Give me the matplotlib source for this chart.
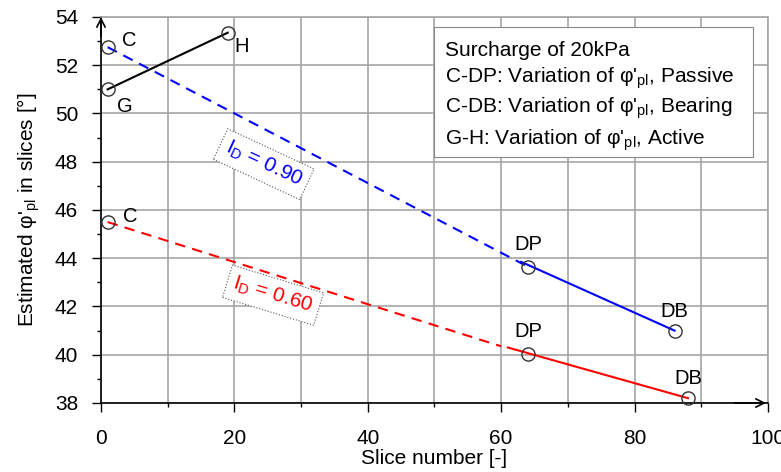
import matplotlib
matplotlib.use("Agg")
import matplotlib.pyplot as plt
from matplotlib.patches import Rectangle
from matplotlib.ticker import MultipleLocator

# ── Data ────────────────────────────────────────────────────────────────
blue_dash_x = [1, 64]
blue_dash_y = [52.75, 43.65]
blue_solid_x = [63, 86]
blue_solid_y = [43.85, 41.0]

red_dash_x = [1, 60]
red_dash_y = [45.5, 40.35]
red_solid_x = [61, 88]
red_solid_y = [40.3, 38.2]

gh_x = [1, 19]
gh_y = [51.0, 53.35]

# labelled points: (x, y, label, offset in points, ha)
points = [
    (1, 52.75, "C", (10, 5), "left"),
    (64, 43.65, "DP", (0, 16), "center"),
    (86, 41.0, "DB", (0, 14), "center"),
    (1, 45.5, "C", (11, 4), "left"),
    (64, 40.05, "DP", (0, 16), "center"),
    (88, 38.2, "DB", (0, 14), "center"),
    (1, 51.0, "G", (12, -12), "center"),
    (19, 53.35, "H", (10, -10), "center"),
]

legend_lines = [
    "Surcharge of 20kPa",
    r"C-DP: Variation of φ'$_\mathrm{pl}$, Passive",
    r"C-DB: Variation of φ'$_\mathrm{pl}$, Bearing",
    r"G-H: Variation of φ'$_\mathrm{pl}$, Active",
]

# ── Style ───────────────────────────────────────────────────────────────
plt.rcParams.update({
    "font.family": ["Liberation Sans", "DejaVu Sans"],
    "font.size": 14,
    "mathtext.fontset": "custom",
    "mathtext.rm": "Liberation Sans",
    "mathtext.it": "Liberation Sans:italic",
    "mathtext.bf": "Liberation Sans:bold",
})
GRID = "#a6a6a6"
BLUE = "#0000ff"
RED = "#ff0000"

fig = plt.figure(figsize=(7.81, 4.72), dpi=100)
ax = fig.add_axes([0.1293, 0.1462, 0.854, 0.8178])

ax.set_xlim(0, 100)
ax.set_ylim(38, 54)
ax.xaxis.set_major_locator(MultipleLocator(20))
ax.xaxis.set_minor_locator(MultipleLocator(10))
ax.yaxis.set_major_locator(MultipleLocator(2))
ax.yaxis.set_minor_locator(MultipleLocator(1))
ax.tick_params(which="major", direction="out", length=6.5, width=1, labelsize=15)
ax.tick_params(axis="x", which="major", pad=12)
ax.tick_params(axis="y", which="major", pad=10)
ax.tick_params(which="minor", direction="out", length=3, width=1)
ax.grid(True, which="major", axis="y", color=GRID, lw=1.2, zorder=0)
ax.grid(True, which="both", axis="x", color=GRID, lw=1.2, zorder=0)

for s in ("top", "right"):
    ax.spines[s].set_color(GRID)
    ax.spines[s].set_linewidth(1.2)
for s in ("left", "bottom"):
    ax.spines[s].set_color("black")
    ax.spines[s].set_linewidth(1.2)

# axis arrows
ax.annotate("", xy=(0, 1.0), xytext=(0, 0.95), xycoords="axes fraction",
            arrowprops=dict(arrowstyle="->", lw=1.2, color="black",
                            mutation_scale=15, shrinkA=0, shrinkB=0))
ax.annotate("", xy=(0.997, 0), xytext=(0.95, 0), xycoords="axes fraction",
            arrowprops=dict(arrowstyle="->", lw=1.2, color="black",
                            mutation_scale=15, shrinkA=0, shrinkB=0))

# lines
dash = (0, (5, 3.5))
ax.plot(blue_dash_x, blue_dash_y, color=BLUE, lw=1.5, ls=dash, zorder=3)
ax.plot(blue_solid_x, blue_solid_y, color=BLUE, lw=1.5, zorder=3)
ax.plot(red_dash_x, red_dash_y, color=RED, lw=1.5, ls=dash, zorder=3)
ax.plot(red_solid_x, red_solid_y, color=RED, lw=1.5, zorder=3)
ax.plot(gh_x, gh_y, color="black", lw=1.5, zorder=3)

for x, y, lab, off, ha in points:
    ax.plot(x, y, "o", ms=9.5, mfc="none", mec="#333333", mew=1.0, zorder=4, clip_on=False)
    ax.annotate(lab, (x, y), xytext=off, textcoords="offset points",
                ha=ha, va="center", fontsize=14.5)

# I_D labels
box = dict(boxstyle="square,pad=0.3", fc="white", ec="#555555", ls=":", lw=0.8)
ax.text(24.4, 47.9, r"I$_\mathrm{D}$ = 0.90", color=BLUE, fontsize=15,
        rotation=-25, rotation_mode="anchor", ha="center", va="center", bbox=box, zorder=5)
ax.text(25.8, 42.47, r"I$_\mathrm{D}$ = 0.60", color=RED, fontsize=15,
        rotation=-17, rotation_mode="anchor", ha="center", va="center", bbox=box, zorder=5)

# legend box
ax.add_patch(Rectangle((0.499, 0.637), 0.478, 0.337, transform=ax.transAxes,
                       fc="white", ec="#888888", lw=0.8, zorder=5))
for yy, line in zip([0.899, 0.829, 0.751, 0.668], legend_lines):
    ax.text(0.516, yy, line, transform=ax.transAxes, fontsize=15,
            va="baseline", ha="left", zorder=6)

ax.set_xlabel("Slice number [-]", fontsize=15, labelpad=1)
ax.set_ylabel(r"Estimated φ'$_\mathrm{pl}$ in slices [°]", fontsize=15, labelpad=9)

fig.savefig("out.png", dpi=100)
